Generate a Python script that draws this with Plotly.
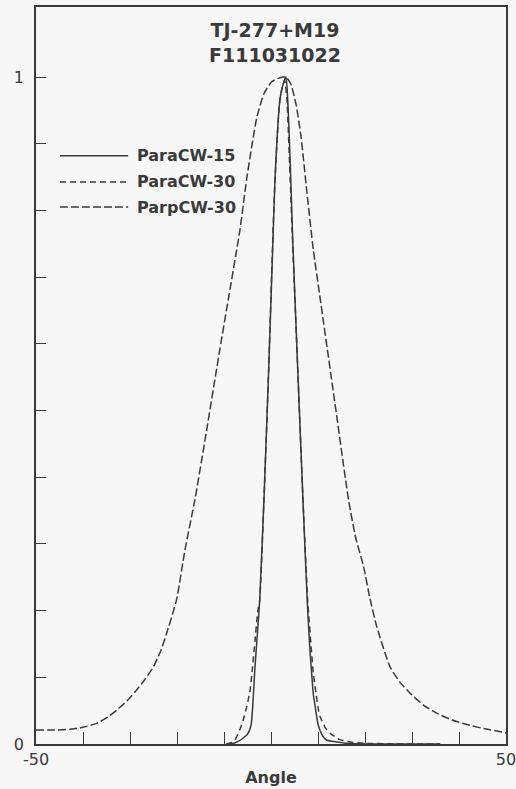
import plotly.graph_objects as go

# Angular scans, normalised intensity
angle_para15 = [-9.5, -8.0, -7.0, -5.9, -5.2, -4.6, -4.2, -3.9, -3.4, -2.9, -2.4, -1.5, -0.5,
                0.35, 0.85, 1.9, 2.6, 3.2, 3.6, 4.1, 4.6, 5.7, 6.8, 7.7, 8.2, 8.65, 9.0, 9.4,
                10.0, 10.4, 11.0, 11.8, 13.0, 14.0, 16.0, 20.0, 30.0, 36.0]
value_para15 = [0.0, 0.001, 0.004, 0.009, 0.013, 0.020, 0.030, 0.055, 0.116, 0.165, 0.216, 0.366, 0.560,
                0.741, 0.846, 0.966, 0.990, 1.0, 0.960, 0.870, 0.760, 0.560, 0.366, 0.216, 0.150, 0.106, 0.075, 0.056,
                0.030, 0.021, 0.012, 0.006, 0.004, 0.003, 0.001, 0.0, 0.0, 0.0]

angle_para30 = [-9.5, -8.5, -7.7, -7.3, -6.6, -5.9, -5.2, -4.5, -4.0, -3.4, -2.8, -2.4, -1.5, -0.5,
                0.3, 0.85, 1.8, 2.4, 2.9, 3.4, 3.9, 4.5, 5.7, 6.8, 7.8, 8.6, 9.0, 9.6, 10.1, 10.4,
                11.5, 12.6, 14.5, 16.8, 20.0, 30.0, 36.0]
value_para30 = [0.0, 0.002, 0.006, 0.011, 0.022, 0.036, 0.055, 0.078, 0.110, 0.155, 0.200, 0.216, 0.366, 0.560,
                0.741, 0.846, 0.960, 0.985, 0.995, 0.965, 0.880, 0.770, 0.560, 0.366, 0.216, 0.140, 0.106, 0.075, 0.051, 0.042,
                0.025, 0.016, 0.007, 0.003, 0.001, 0.0, 0.0]

angle_parp30 = [-50, -46, -42.8, -40, -37.1, -34.8, -32.8, -30.6, -28.6, -26.8, -25.0, -23.5, -22.2,
                -20.1, -18.3, -16.2, -13.8, -10.9, -9.1, -7.3, -6.6, -5.2, -4.0, -3.0, -1.5, 0.15,
                1.5, 2.6, 3.2, 4.2, 5.3, 6.4, 7.6, 9.0, 10.5, 13.5, 16.5, 18.0, 19.7, 21.0, 22.5,
                25.3, 27.5, 29.6, 32.5, 35.3, 38.5, 42.3, 46, 50]
value_parp30 = [0.021, 0.021, 0.022, 0.025, 0.031, 0.040, 0.051, 0.065, 0.081, 0.097, 0.116, 0.139, 0.166,
                0.216, 0.291, 0.366, 0.466, 0.591, 0.666, 0.741, 0.771, 0.846, 0.900, 0.940, 0.975, 0.993,
                0.998, 1.0, 1.0, 0.990, 0.960, 0.910, 0.830, 0.741, 0.666, 0.516, 0.366, 0.310, 0.266, 0.220, 0.176,
                0.116, 0.092, 0.076, 0.058, 0.046, 0.036, 0.028, 0.022, 0.017]

series_names = ["ParaCW-15", "ParaCW-30", "ParpCW-30"]
title_lines = ["TJ-277+M19", "F111031022"]
x_ticks = [-50, -40, -30, -20, -10, 0, 10, 20, 30, 40, 50]
x_tick_text = ["-50", "", "", "", "", "", "", "", "", "", "50"]
y_ticks = [0, 0.1, 0.2, 0.3, 0.4, 0.5, 0.6, 0.7, 0.8, 0.9, 1.0]
y_tick_text = ["0", "", "", "", "", "", "", "", "", "", "1"]

INK = "#3a3a3a"
BG = "#f7f7f7"
FONT = "DejaVu Sans"
dashes = ["solid", "6px,4px", "8px,3px"]

fig = go.Figure()
for name, xs, ys, d in zip(series_names,
                           [angle_para15, angle_para30, angle_parp30],
                           [value_para15, value_para30, value_parp30],
                           dashes):
    fig.add_trace(go.Scatter(x=xs, y=ys, mode="lines", name=name,
                             line=dict(color=INK, width=1.5, dash=d,
                                       shape="spline", smoothing=0.5),
                             showlegend=False))

# Hand-placed key: sample line plus label per series
legend_rows = [0.798, 0.7626, 0.7286]
shapes = []
annotations = []
for name, d, yy in zip(series_names, dashes, legend_rows):
    shapes.append(dict(type="line", xref="paper", yref="paper",
                       x0=0.051, x1=0.196, y0=yy, y1=yy,
                       line=dict(color=INK, width=1.5, dash=d)))
    annotations.append(dict(text=f"<b>{name}</b>", xref="paper", yref="paper",
                            x=0.211, y=yy, xanchor="left", yanchor="middle",
                            showarrow=False, font=dict(family=FONT, size=16, color=INK)))

annotations.append(dict(text="<b>" + "<br>".join(title_lines) + "</b>",
                        xref="paper", yref="paper", x=0.5085, y=0.952,
                        xanchor="center", yanchor="middle", align="center",
                        showarrow=False, font=dict(family=FONT, size=19, color=INK)))

fig.update_layout(
    width=516, height=789,
    margin=dict(l=36, r=10, t=7, b=45),
    paper_bgcolor=BG, plot_bgcolor=BG,
    shapes=shapes, annotations=annotations,
    font=dict(family=FONT, color=INK),
)
fig.update_xaxes(
    range=[-50, 50], tickvals=x_ticks, ticktext=x_tick_text,
    ticks="inside", ticklen=12, tickwidth=1.2, tickcolor=INK,
    showline=True, linecolor=INK, linewidth=1.5, mirror=True,
    showgrid=False, zeroline=False, automargin=False,
    ticklabeloverflow="allow",
    tickfont=dict(family=FONT, size=16, color=INK),
    title=dict(text="<b>Angle</b>", font=dict(family=FONT, size=16, color=INK), standoff=4),
)
fig.update_yaxes(
    range=[0, 1.105], tickvals=y_ticks, ticktext=y_tick_text,
    ticks="inside", ticklen=10, tickwidth=1.2, tickcolor=INK,
    showline=True, linecolor=INK, linewidth=1.5, mirror=True,
    showgrid=False, zeroline=False, automargin=False,
    ticklabelstandoff=7, ticklabeloverflow="allow",
    tickfont=dict(family=FONT, size=16, color=INK),
)

fig.write_html("out.html")
